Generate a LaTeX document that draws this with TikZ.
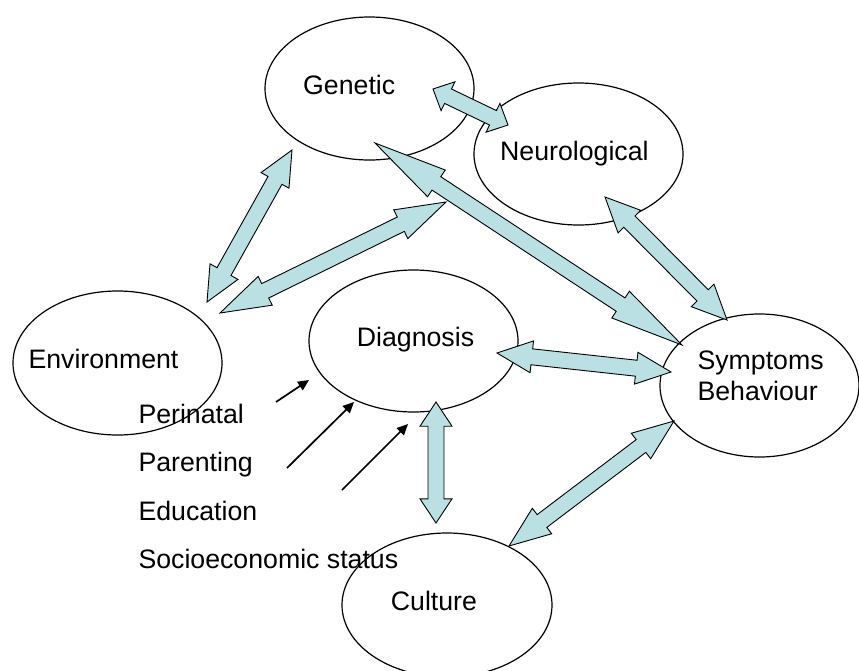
\documentclass[tikz,border=0pt]{standalone}
\usepackage{fontspec}
\setmainfont{Liberation Sans}
\usetikzlibrary{calc,shapes.geometric,arrows.meta}
\definecolor{arrowfill}{RGB}{187,224,227}
\tikzset{
  bubble/.style={draw, line width=1.2pt, ellipse, inner sep=0pt},
  lbl/.style={font=\fontsize{26.7}{31}\selectfont, inner sep=0pt, anchor=base west},
  fatarrow/.style={draw, line width=0.9pt, fill=arrowfill, line join=miter},
  thinarrow/.style={line width=1.7pt, -{Triangle[length=11pt,width=10pt]}}
}
\newcommand{\blockarr}[2]{%
  \coordinate (ha) at ($(#1)!0.2!(#2)$);
  \coordinate (hb) at ($(#2)!0.2!(#1)$);
  \draw[fatarrow] (#1) -- ($(ha)!16pt!90:(#2)$) -- ($(ha)!8pt!90:(#2)$)
    -- ($(hb)!8pt!-90:(#1)$) -- ($(hb)!16pt!-90:(#1)$) -- (#2)
    -- ($(hb)!16pt!90:(#1)$) -- ($(hb)!8pt!90:(#1)$)
    -- ($(ha)!8pt!-90:(#2)$) -- ($(ha)!16pt!-90:(#2)$) -- cycle;}
\begin{document}
\begin{tikzpicture}[x=1pt,y=-1pt]
\useasboundingbox (0,0) rectangle (859,670);
\begin{scope}
\clip (0,0) rectangle (859,670);
% ellipses
\node[bubble, minimum width=209pt, minimum height=143pt] (genetic) at (369.5,88.5) {};
\node[bubble, minimum width=209pt, minimum height=142pt] (neuro) at (578.5,154) {};
\node[bubble, minimum width=209pt, minimum height=144pt] (env) at (117.5,363) {};
\node[bubble, minimum width=209pt, minimum height=142pt] (diag) at (413.5,341) {};
\node[bubble, minimum width=199pt, minimum height=143pt] (sympt) at (759.5,385.5) {};
\node[bubble, minimum width=210pt, minimum height=144pt] (culture) at (447,605) {};
\end{scope}
% labels
\node[lbl] (tgen) at (303,94.3) {Genetic};
\node[lbl] (tneu) at (500,160) {Neurological};
\node[lbl] (tenv) at (28.3,368.3) {Environment};
\node[lbl] (tdia) at (356.7,346.7) {Diagnosis};
\node[lbl] (tsym) at (697.3,369) {Symptoms};
\node[lbl] (tbeh) at (697.3,400) {Behaviour};
\node[lbl] (tcul) at (390.7,610) {Culture};
\node[lbl] (tper) at (138.3,423.3) {Perinatal};
\node[lbl] (tpar) at (138.3,471.7) {Parenting};
\node[lbl] (tedu) at (138.3,520) {Education};
\node[lbl] (tses) at (138.3,568.3) {Socioeconomic status};
% block arrow end points
\coordinate (gn1) at (433,89);   \coordinate (gn2) at (508,125);
\coordinate (ge1) at (292,150);  \coordinate (ge2) at (207,302);
\coordinate (en1) at (220,313);  \coordinate (en2) at (446,202);
\coordinate (gs1) at (375,143);  \coordinate (gs2) at (682,345);
\coordinate (ns1) at (605,197);  \coordinate (ns2) at (727,320);
\coordinate (ds1) at (497,353);  \coordinate (ds2) at (671,372);
\coordinate (dc1) at (436,402);  \coordinate (dc2) at (436,523);
\coordinate (cs1) at (509,546);  \coordinate (cs2) at (674,421);
\blockarr{gn1}{gn2}
\blockarr{ge1}{ge2}
\blockarr{en1}{en2}
\blockarr{gs1}{gs2}
\blockarr{ns1}{ns2}
\blockarr{ds1}{ds2}
\blockarr{dc1}{dc2}
\blockarr{cs1}{cs2}
% thin arrows
\coordinate (a1s) at (276,402); \coordinate (a1e) at (309,380);
\coordinate (a2s) at (287,468); \coordinate (a2e) at (354,402);
\coordinate (a3s) at (342,490); \coordinate (a3e) at (408,424);
\draw[thinarrow] (a1s) -- (a1e);
\draw[thinarrow] (a2s) -- (a2e);
\draw[thinarrow] (a3s) -- (a3e);
\end{tikzpicture}
\end{document}
